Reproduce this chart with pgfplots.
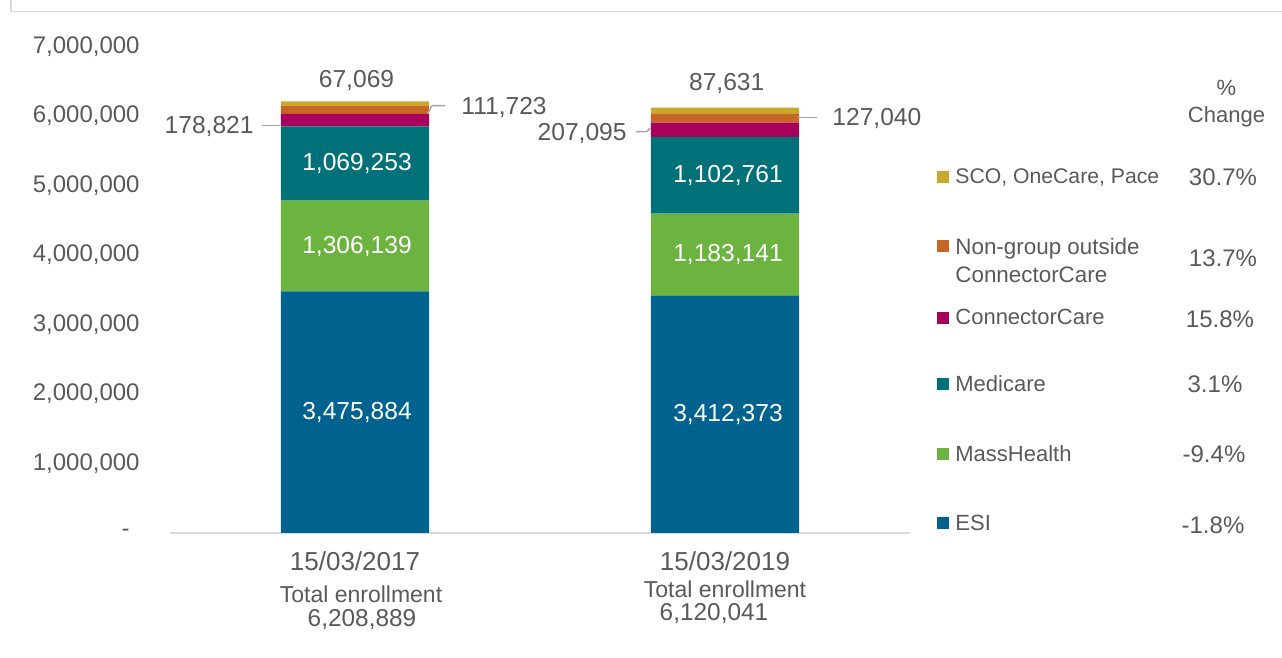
\documentclass[border=0pt]{standalone}
\usepackage{pgfplots}
\pgfplotsset{compat=1.18}
\usepackage{fontspec}
\setmainfont{Liberation Sans}
\definecolor{txt}{HTML}{595959}
\definecolor{esi}{HTML}{00628F}
\definecolor{mass}{HTML}{6DB33F}
\definecolor{medi}{HTML}{007179}
\definecolor{conn}{HTML}{A6005A}
\definecolor{nong}{HTML}{C86626}
\definecolor{sco}{HTML}{C9A82C}
\definecolor{gridc}{HTML}{D9D9D9}
\definecolor{lead}{HTML}{A6A6A6}
\newcommand{\fa}{\fontsize{12}{14}\selectfont}
\newcommand{\fd}{\fontsize{12.3}{14}\selectfont}
\newcommand{\fb}{\fontsize{11}{14}\selectfont}
\newcommand{\fx}{\fontsize{11.5}{13}\selectfont}
\newcommand{\fdt}{\fontsize{13}{13}\selectfont}
\newcommand{\fn}{\fontsize{12.2}{13}\selectfont}
\begin{document}
\begin{tikzpicture}[x=0.5pt,y=0.5pt]
\path[use as bounding box] (0,0) rectangle (1282,658);
\draw[gridc,line width=0.75pt] (11,658) -- (11,658-11.7) -- (1282,658-11.7);
\begin{axis}[
  at={(85pt,62.5pt)}, anchor=south west,
  scale only axis, width=370pt, height=243.25pt,
  xmin=-0.5, xmax=1.5, ymin=0, ymax=7000000,
  ybar stacked, bar width=74pt,
  axis x line*=bottom, axis y line*=left,
  y axis line style={draw=none},
  x axis line style={draw=gridc, line width=1pt},
  major tick length=0pt, tick align=inside,
  scaled y ticks=false,
  ytick={0,1000000,2000000,3000000,4000000,5000000,6000000,7000000},
  yticklabels={{-\hspace*{5pt}},{1,000,000},{2,000,000},{3,000,000},{4,000,000},{5,000,000},{6,000,000},{7,000,000}},
  yticklabel style={anchor=east, inner sep=0pt, xshift=-15pt, text=txt, font=\fa},
  xtick={0,1},
  xticklabels={{{\fdt 15/03/2017}\\[3pt]\hspace*{6pt}Total enrollment\\[-0.8pt]{\fn\hspace*{7pt}6,208,889}},{{\fdt 15/03/2019}\\[0.5pt]Total enrollment\hspace*{10pt}\\[-1.5pt]{\fn 6,120,041\hspace*{11pt}}}},
  xticklabel style={anchor=north, inner sep=0pt, yshift=-9pt, align=center, text=txt, font=\fx},
  clip=false,
]
\addplot[fill=esi, draw=none] coordinates {(0,3475884) (1,3412373)};
\addplot[fill=mass, draw=none] coordinates {(0,1306139) (1,1183141)};
\addplot[fill=medi, draw=none] coordinates {(0,1069253) (1,1102761)};
\addplot[fill=conn, draw=none] coordinates {(0,178821) (1,207095)};
\addplot[fill=nong, draw=none] coordinates {(0,111723) (1,127040)};
\addplot[fill=sco, draw=none] coordinates {(0,67069) (1,87631)};
\coordinate (a1) at (axis cs:0,1737942);
\coordinate (a2) at (axis cs:0,4128953);
\coordinate (a3) at (axis cs:0,5316650);
\coordinate (b1) at (axis cs:1,1706186);
\coordinate (b2) at (axis cs:1,4003944);
\coordinate (b3) at (axis cs:1,5146895);
\end{axis}
% inner data labels
\begin{scope}[every node/.style={text=white, font=\fd, inner sep=0pt}]
\node at ([xshift=1pt]a1) {3,475,884};
\node at ([xshift=1pt]a2) {1,306,139};
\node at ([xshift=1pt]a3) {1,069,253};
\node at ([xshift=1.5pt]b1) {3,412,373};
\node at ([xshift=1.5pt]b2) {1,183,141};
\node at ([xshift=1.5pt]b3) {1,102,761};
\end{scope}
% outer data labels
\begin{scope}[every node/.style={text=txt, font=\fd, inner sep=0pt}]
\node at (356.5,658-80) {67,069};
\node[anchor=east] at (254,658-126) {178,821};
\node[anchor=west] at (461,658-107) {111,723};
\node at (726.7,658-83.3) {87,631};
\node[anchor=west] at (832,658-118.3) {127,040};
\node[anchor=east] at (627,658-133.3) {207,095};
\end{scope}
\draw[lead, line width=0.75pt] (262,658-125.7) -- (280,658-125.7);
\draw[lead, line width=0.75pt] (427.5,658-114) -- (432,658-105.7) -- (445,658-105.7);
\draw[lead, line width=0.75pt] (798,658-117.3) -- (817,658-117.3);
\draw[lead, line width=0.75pt] (636,658-131.7) -- (646.7,658-131.7) -- (650,658-128.3);
% legend
\begin{scope}[every node/.style={text=txt, font=\fb, inner sep=0pt}]
\fill[sco]  (937,658-183) rectangle ++(12,12);
\node[anchor=west] at (955,658-177.5) {\fontsize{10.6}{14}\selectfont SCO, OneCare, Pace};
\fill[nong] (937,658-252) rectangle ++(12,12);
\node[anchor=west, align=left, font=\fontsize{11.2}{14}\selectfont] at (955,658-260.5) {Non-group outside\\ConnectorCare};
\fill[conn] (937,658-324) rectangle ++(12,12);
\node[anchor=west] at (955,658-317) {ConnectorCare};
\fill[medi] (937,658-390) rectangle ++(12,12);
\node[anchor=west] at (955,658-384) {Medicare};
\fill[mass] (937,658-460) rectangle ++(12,12);
\node[anchor=west] at (955,658-454) {MassHealth};
\fill[esi]  (937,658-529) rectangle ++(12,12);
\node[anchor=west] at (955,658-523) {ESI};
\node[align=center, font=\fontsize{11}{13.5}\selectfont] at (1226.5,658-103.5) {\%\\Change};
\node[font=\fa] at (1223,658-177) {30.7\%};
\node[font=\fa] at (1223,658-258) {13.7\%};
\node[font=\fa] at (1220,658-319) {15.8\%};
\node[font=\fa] at (1215,658-384) {3.1\%};
\node[font=\fa] at (1214,658-454) {-9.4\%};
\node[font=\fa] at (1213,658-525) {-1.8\%};
\end{scope}
\end{tikzpicture}
\end{document}
